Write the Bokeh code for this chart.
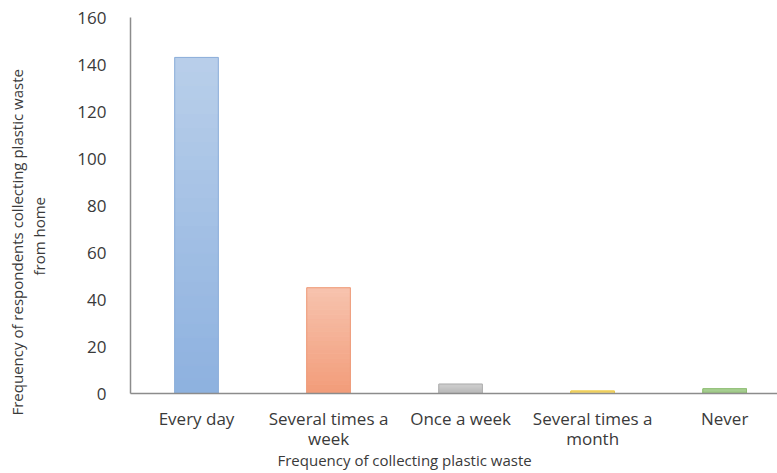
from bokeh.plotting import figure
from bokeh.models import Range1d, FixedTicker, Title
from bokeh.embed import file_html
from bokeh.resources import INLINE

# Survey responses: how often plastic waste is collected at home
categories = ["Every day", "Several times a\nweek", "Once a week", "Several times a\nmonth", "Never"]
counts = [143, 45, 4, 1, 2]
top_colors = ["#b9cfea", "#f7c3ae", "#cfcfcf", "#f9df7f", "#add39a"]
bottom_colors = ["#8db1df", "#f29c79", "#b5b5b5", "#f1cc4d", "#92c175"]
edge_colors = ["#8fb0da", "#ee9c7b", "#b0b0b0", "#e8c64a", "#8fbd72"]
y_ticks = [0, 20, 40, 60, 80, 100, 120, 140, 160]
x_title = "Frequency of collecting plastic waste"
y_title = ["Frequency of respondents collecting plastic waste", "from home"]

FONT = "Open Sans"
TEXT = "#3a3a3a"

p = figure(width=777, height=473, output_backend="svg", toolbar_location=None,
           x_range=Range1d(0, 4.9), y_range=Range1d(0, 160),
           min_border_left=130, min_border_right=0, min_border_top=17,
           min_border_bottom=80, outline_line_color=None)

def mix(c1, c2, t):
    a = [int(c1[i:i + 2], 16) for i in (1, 3, 5)]
    b = [int(c2[i:i + 2], 16) for i in (1, 3, 5)]
    return "#%02x%02x%02x" % tuple(round(a[k] + (b[k] - a[k]) * t) for k in range(3))

# vertical gradient: each bar is built from thin slices, light at the top
steps = 24
xs, bottoms, tops, fills = [], [], [], []
for i, v in enumerate(counts):
    for k in range(steps):
        xs.append(i + 0.5)
        bottoms.append(v * k / steps)
        tops.append(v * (k + 1) / steps)
        fills.append(mix(bottom_colors[i], top_colors[i], (k + 0.5) / steps))
p.vbar(x=xs, bottom=bottoms, top=tops, width=0.33, fill_color=fills,
       line_color=fills, line_width=1)
p.vbar(x=[i + 0.5 for i in range(len(counts))], top=counts, width=0.33,
       fill_color=None, line_color=edge_colors, line_width=1)

p.xgrid.visible = False
p.ygrid.visible = False

p.xaxis.ticker = FixedTicker(ticks=[i + 0.5 for i in range(len(categories))])
p.xaxis.major_label_overrides = {i + 0.5: c for i, c in enumerate(categories)}
p.yaxis.ticker = FixedTicker(ticks=y_ticks)

for ax in (p.xaxis, p.yaxis):
    ax.axis_line_color = "#8c8c8c"
    ax.axis_line_width = 1.5
    ax.major_tick_line_color = None
    ax.minor_tick_line_color = None
    ax.major_label_text_font = FONT
    ax.major_label_text_font_size = "17px"
    ax.major_label_text_color = TEXT
p.yaxis.major_label_standoff = 18
p.xaxis.major_label_standoff = 7
p.xaxis.major_label_text_line_height = 0.87

# blank axis label leaves a gap between the tick labels and the titles
p.yaxis.axis_label = " "
p.yaxis.axis_label_standoff = 8
p.yaxis.axis_label_text_font_size = "12px"

# axis titles
p.add_layout(Title(text=x_title, align="left", offset=147, standoff=-6,
                   text_font=FONT, text_font_size="15px", text_font_style="normal",
                   text_color=TEXT, vertical_align="top"), "below")
p.add_layout(Title(text=y_title[1], align="left", offset=118, standoff=0,
                   text_font=FONT, text_font_size="15px", text_font_style="normal",
                   text_color=TEXT, vertical_align="middle"), "left")
p.add_layout(Title(text=y_title[0], align="left", offset=-22, standoff=0,
                   text_font=FONT, text_font_size="15px", text_font_style="normal",
                   text_color=TEXT, vertical_align="middle"), "left")

open("out.html", "w").write(file_html(p, INLINE))
